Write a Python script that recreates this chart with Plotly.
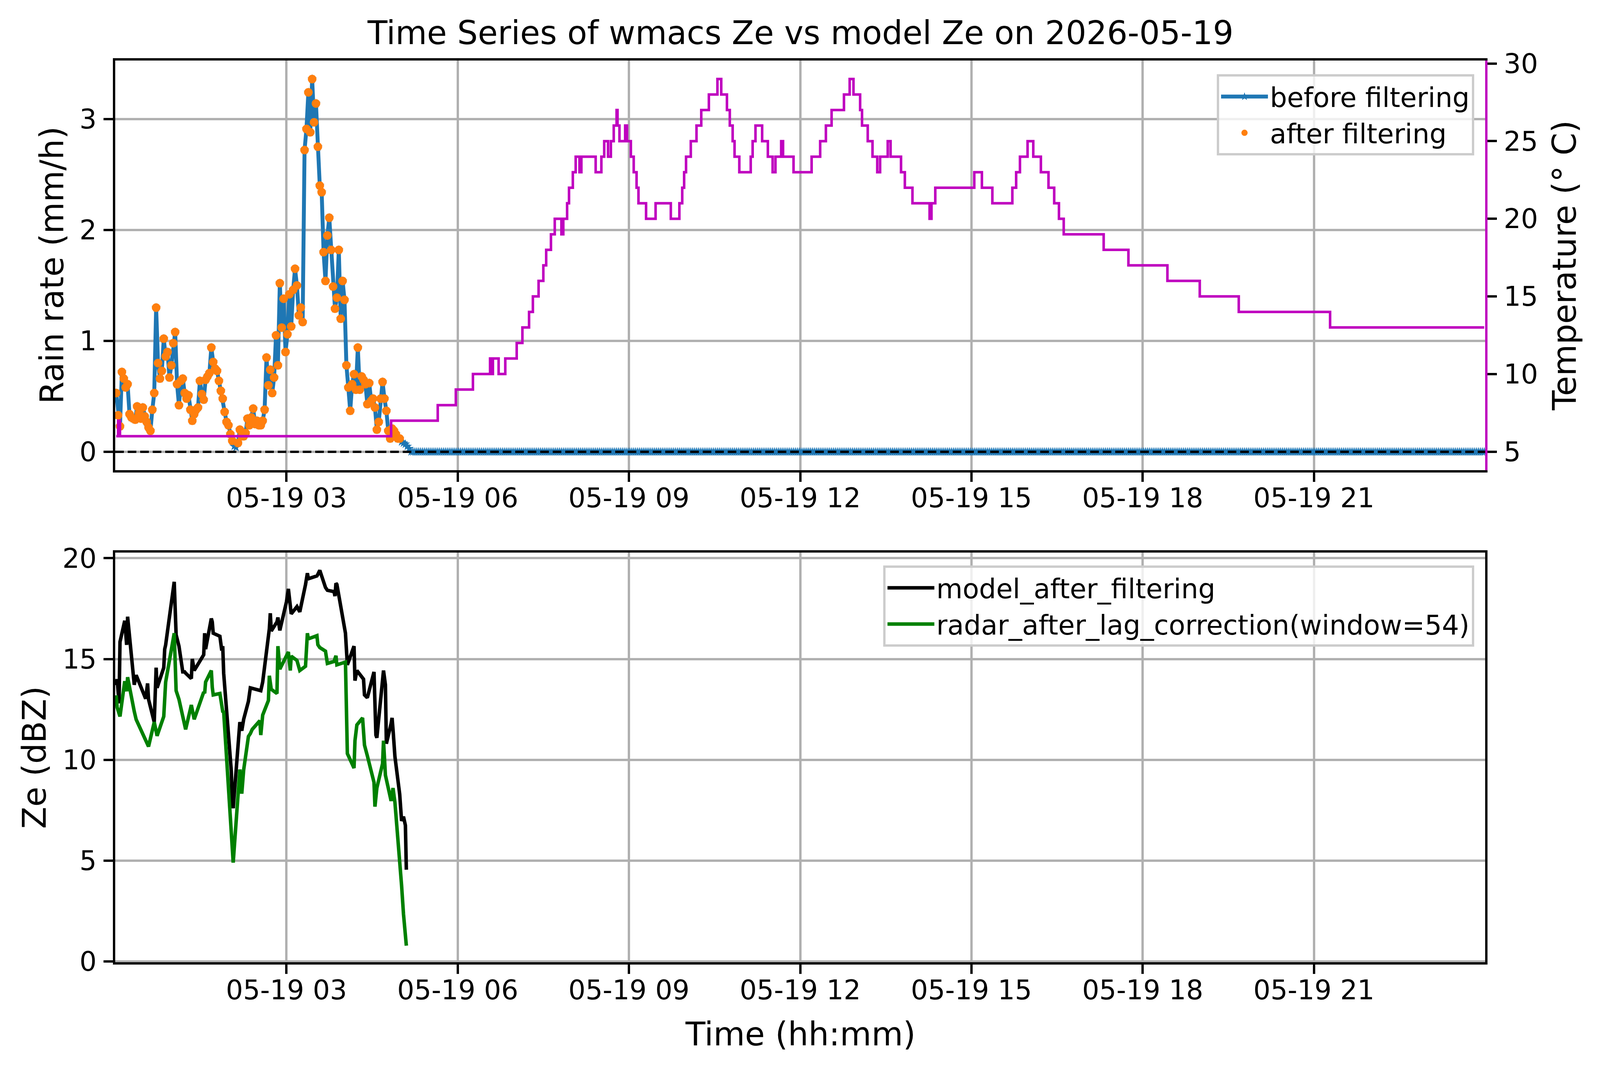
"""Rain rate / temperature and Ze time series for one day (Plotly)."""

import pandas as pd
import plotly.graph_objects as go

DAY = '2026-05-19'

# rain rate (mm/h), one reading every 2 min starting 00:01; dry after 05:11
rain_wet = [
    0.53, 0.33, 0.23, 0.72, 0.66, 0.58, 0.61, 0.34, 0.31, 0.30,
    0.29, 0.41, 0.35, 0.30, 0.40, 0.32, 0.27, 0.22, 0.19, 0.38,
    0.53, 1.30, 0.80, 0.66, 0.73, 1.02, 0.86, 0.90, 0.67, 0.78,
    0.98, 1.08, 0.61, 0.42, 0.64, 0.66, 0.53, 0.48, 0.51, 0.38,
    0.28, 0.34, 0.38, 0.40, 0.64, 0.52, 0.47, 0.65, 0.68, 0.71,
    0.94, 0.81, 0.75, 0.73, 0.64, 0.55, 0.48, 0.36, 0.27, 0.24,
    0.16, 0.10, 0.05, 0.04, 0.08, 0.20, 0.14, 0.14, 0.17, 0.30,
    0.24, 0.31, 0.39, 0.25, 0.28, 0.24, 0.24, 0.28, 0.38, 0.85,
    0.60, 0.74, 0.53, 0.67, 1.05, 0.78, 1.52, 1.12, 1.38, 0.90,
    1.06, 1.42, 1.13, 1.46, 1.65, 1.50, 1.23, 1.30, 1.17, 2.72,
    2.91, 3.24, 2.88, 3.36, 2.97, 3.14, 2.75, 2.40, 2.34, 1.80,
    1.54, 1.95, 2.11, 1.82, 1.49, 1.29, 1.39, 1.82, 1.20, 1.54,
    1.37, 0.78, 0.58, 0.37, 0.61, 0.70, 0.56, 0.94, 0.56, 0.68,
    0.65, 0.61, 0.43, 0.62, 0.46, 0.48, 0.40, 0.20, 0.27, 0.48,
    0.63, 0.48, 0.37, 0.19, 0.12, 0.21, 0.19, 0.16, 0.12, 0.12,
    0.09, 0.08, 0.07, 0.05, 0.03, 0.0,
]
rain_removed = ['02:05', '02:07']   # dropped by the filter
rain_filter_end = '04:59'           # no filtered values after this

# temperature (deg C), value from each change time onwards
temp_times = [
    '00:01', '00:03', '00:05', '04:50', '05:39', '05:58', '06:16', '06:34',
    '06:36', '06:37', '06:43', '06:50', '07:02', '07:08', '07:15', '07:19',
    '07:25', '07:30', '07:33', '07:38', '07:42', '07:49', '07:51', '07:55',
    '07:57', '08:01', '08:04', '08:08', '08:10', '08:25', '08:31', '08:34',
    '08:38', '08:41', '08:44', '08:47', '08:48', '08:50', '08:56', '08:58',
    '09:02', '09:05', '09:08', '09:10', '09:18', '09:28', '09:44', '09:53',
    '09:56', '09:58', '10:00', '10:05', '10:11', '10:16', '10:24', '10:33',
    '10:37', '10:43', '10:46', '10:49', '10:51', '10:56', '11:08', '11:10',
    '11:13', '11:20', '11:26', '11:31', '11:34', '11:40', '11:42', '11:53',
    '12:12', '12:21', '12:27', '12:33', '12:46', '12:52', '12:56', '13:03',
    '13:05', '13:11', '13:16', '13:21', '13:24', '13:32', '13:35', '13:46',
    '13:50', '13:58', '14:16', '14:18', '14:22', '15:03', '15:11', '15:22',
    '15:43', '15:47', '15:51', '15:59', '16:05', '16:13', '16:21', '16:27',
    '16:32', '16:37', '17:19', '17:45', '18:26', '19:00', '19:41', '21:17',
    '23:59',
]
temp_values = [
    6, 7, 6, 7, 8, 9, 10, 11,
    10, 11, 10, 11, 12, 13, 14, 15,
    16, 17, 18, 19, 20, 19, 20, 21,
    22, 23, 24, 23, 24, 23, 24, 25,
    24, 25, 26, 27, 26, 25, 26, 25,
    24, 23, 22, 21, 20, 21, 20, 21,
    22, 23, 24, 25, 26, 27, 28, 29,
    28, 27, 26, 25, 24, 23, 24, 25,
    26, 25, 24, 23, 24, 25, 24, 23,
    24, 25, 26, 27, 28, 29, 28, 27,
    26, 25, 24, 23, 24, 25, 24, 23,
    22, 21, 20, 21, 22, 23, 22, 21,
    22, 23, 24, 25, 24, 23, 22, 21,
    20, 19, 18, 17, 16, 15, 14, 13,
    13,
]

# Ze (dBZ) of model and lag-corrected radar
ze_times = [
    '00:01', '00:02', '00:04', '00:05', '00:10', '00:12', '00:13', '00:15',
    '00:20', '00:22', '00:32', '00:34', '00:35', '00:41', '00:43', '00:44',
    '00:51', '00:52', '00:53', '01:02', '01:04', '01:07', '01:10', '01:11',
    '01:13', '01:14', '01:20', '01:21', '01:23', '01:33', '01:34', '01:35',
    '01:41', '01:42', '01:43', '01:50', '01:52', '01:53', '01:54', '02:02',
    '02:03', '02:04', '02:11', '02:13', '02:15', '02:20', '02:22', '02:24',
    '02:32', '02:33', '02:35', '02:41', '02:42', '02:43', '02:44', '02:50',
    '02:51', '02:53', '03:00', '03:02', '03:04', '03:05', '03:11', '03:14',
    '03:20', '03:22', '03:23', '03:32', '03:33', '03:35', '03:41', '03:43',
    '03:50', '03:51', '03:52', '03:53', '04:02', '04:04', '04:11', '04:12',
    '04:14', '04:20', '04:21', '04:22', '04:25', '04:32', '04:33', '04:34',
    '04:35', '04:41', '04:42', '04:44', '04:45', '04:50', '04:51', '04:52',
    '04:54', '04:59', '05:01', '05:03', '05:05', '05:06',
]
ze_model = [
    13.7, 14.0, 12.8, 15.85, 16.9, 15.7, 17.1, 16.06,
    13.72, 14.2, 13.03, 13.79, 13.0, 11.87, 14.57, 13.57,
    14.57, 15.49, 15.7, 18.83, 16.2, 15.64, 14.4, 14.36,
    14.36, 14.3, 14.03, 15.0, 14.43, 15.21, 16.28, 15.49,
    17.01, 16.84, 16.28, 16.13, 15.42, 15.64, 14.29, 9.45,
    7.89, 7.6, 11.87, 11.44, 12.01, 12.9, 13.57, 13.55,
    13.45, 13.43, 13.86, 16.13, 16.5, 17.27, 16.39, 16.84,
    17.06, 16.42, 17.84, 18.48, 17.41, 17.24, 17.6, 17.34,
    18.69, 19.26, 18.98, 19.12, 19.2, 19.4, 18.55, 18.41,
    18.34, 18.12, 18.76, 18.7, 16.28, 14.71, 15.64, 13.93,
    14.43, 14.1, 14.0, 13.22, 13.08, 14.36, 12.5, 11.23,
    11.09, 13.8, 14.43, 13.72, 10.8, 11.8, 12.08, 11.5,
    10.16, 8.3, 6.97, 7.18, 6.75, 4.55,
]
ze_radar = [
    13.2, 12.6, 12.3, 12.15, 13.9, 13.4, 14.1, 13.57,
    12.4, 12.0, 10.95, 10.8, 10.66, 11.87, 11.3, 11.19,
    12.15, 13.0, 13.86, 16.28, 13.43, 13.0, 12.37, 12.0,
    11.6, 11.51, 12.72, 12.5, 12.01, 13.36, 13.3, 13.86,
    14.43, 13.6, 13.22, 13.29, 12.44, 12.4, 12.37, 6.5,
    5.54, 4.9, 9.52, 8.32, 9.5, 11.16, 11.3, 11.51,
    11.94, 11.23, 12.22, 12.94, 14.17, 13.57, 13.5, 13.29,
    15.64, 14.5, 15.2, 15.35, 14.43, 15.14, 14.93, 14.43,
    14.64, 16.28, 16.0, 16.16, 15.71, 15.57, 15.39, 14.78,
    14.88, 15.0, 15.16, 14.71, 14.85, 10.31, 9.59, 10.95,
    11.73, 12.08, 10.9, 10.73, 10.2, 8.88, 7.68, 8.39,
    8.6, 9.81, 10.95, 9.24, 9.0, 7.96, 8.3, 8.6,
    7.89, 5.19, 3.77, 2.35, 1.2, 0.78,
]

hour_ticks = [3, 6, 9, 12, 15, 18, 21]
rain_ticks = [0, 1, 2, 3]
temp_ticks = [5, 10, 15, 20, 25, 30]
ze_ticks = [0, 5, 10, 15, 20]

BLUE, ORANGE, MAGENTA, GREEN = '#1f77b4', '#ff7f0e', '#bf00bf', '#008000'
FONT = 'DejaVu Sans'

# page is 2740 px tall; margins/gaps in px, the width follows the window
M_L, M_R, M_T, M_B = 295, 294, 155, 276
PLOT_H = 2740 - M_T - M_B
TOP_LOW = (2464 - 1204) / PLOT_H      # bottom of the upper panel
LOW_TOP = (2464 - 1415) / PLOT_H      # top of the lower panel


def stamp(hhmm):
    return f'{DAY} {hhmm}'


rain_t = pd.date_range(stamp('00:01'), stamp('23:59'), freq='2min')
rain_before = rain_wet + [0.0] * (len(rain_t) - len(rain_wet))
rain_hhmm = rain_t.strftime('%H:%M')
rain_after = [r if (h <= rain_filter_end and h not in rain_removed) else None
              for h, r in zip(rain_hhmm, rain_before)]

fig = go.Figure()

fig.add_trace(go.Scatter(
    x=rain_t, y=rain_before, mode='lines+markers', name='before filtering',
    line=dict(color=BLUE, width=10), marker=dict(symbol='star', size=18, color=BLUE),
    xaxis='x', yaxis='y', legend='legend',
))
fig.add_trace(go.Scatter(
    x=rain_t, y=rain_after, mode='markers', name='after filtering',
    marker=dict(size=22, color=ORANGE), xaxis='x', yaxis='y', legend='legend',
))
fig.add_trace(go.Scatter(
    x=[stamp(t) for t in temp_times], y=temp_values, mode='lines',
    line=dict(color=MAGENTA, width=6.5, shape='hv'), showlegend=False,
    xaxis='x', yaxis='y2',
))
fig.add_trace(go.Scatter(
    x=[stamp(t) for t in ze_times], y=ze_model, mode='lines',
    name='model_after_filtering', line=dict(color='black', width=9),
    xaxis='x2', yaxis='y3', legend='legend2',
))
fig.add_trace(go.Scatter(
    x=[stamp(t) for t in ze_times], y=ze_radar, mode='lines',
    name='radar_after_lag_correction(window=54)', line=dict(color=GREEN, width=9),
    xaxis='x2', yaxis='y3', legend='legend2',
))

axis_style = dict(
    showline=True, linecolor='black', linewidth=5.5, mirror=True,
    ticks='outside', ticklen=24, tickwidth=5.5, tickcolor='black',
    tickfont=dict(family=FONT, size=69, color='black'),
    showgrid=True, gridcolor='#b0b0b0', gridwidth=5.5,
    zeroline=False, automargin=False,
)
x_range = [stamp('00:00'), pd.Timestamp(DAY) + pd.Timedelta(days=1)]
x_ticks = [stamp(f'{h:02d}:00') for h in hour_ticks]
x_text = [f'{DAY[5:]} {h:02d}' for h in hour_ticks]

legend_style = dict(
    xanchor='right', yanchor='top', x=0.992, bgcolor='rgba(255,255,255,0.8)',
    bordercolor='#cccccc', borderwidth=6, itemwidth=120,
    font=dict(family=FONT, size=69, color='black'),
)

fig.update_layout(
    autosize=True, margin=dict(l=M_L, r=M_R, t=M_T, b=M_B, pad=0),
    paper_bgcolor='white', plot_bgcolor='white',
    font=dict(family=FONT, color='black'),
    xaxis=dict(axis_style, domain=[0, 1], anchor='y', type='date', range=x_range,
               tickvals=x_ticks, ticktext=x_text, ticklabelstandoff=-18),
    yaxis=dict(axis_style, domain=[TOP_LOW, 1], anchor='x',
               range=[-0.165, 3.527], tickvals=rain_ticks, ticklabelstandoff=4),
    yaxis2=dict(axis_style, overlaying='y', anchor='x', side='right', mirror=False,
                linecolor=MAGENTA, showgrid=False, range=[3.81, 30.19],
                tickvals=temp_ticks, ticklabelstandoff=4),
    xaxis2=dict(axis_style, domain=[0, 1], anchor='y3', type='date', range=x_range,
                tickvals=x_ticks, ticktext=x_text, ticklabelstandoff=-18),
    yaxis3=dict(axis_style, domain=[0, LOW_TOP], anchor='x2',
                range=[-0.04, 20.28], tickvals=ze_ticks, ticklabelstandoff=4),
    legend=dict(legend_style, y=1 - 35 / PLOT_H),
    legend2=dict(legend_style, y=1 - (1448 - M_T) / PLOT_H),
    shapes=[dict(type='line', xref='x domain', yref='y', x0=0, x1=1, y0=0, y1=0,
                 line=dict(color='black', width=6, dash='22px,10px'), layer='above')],
    showlegend=True,
)

label_font = dict(family=FONT, size=83, color='black')
annotations = [
    dict(text='Time Series of wmacs Ze vs model Ze on 2026-05-19',
         xref='paper', x=0.5, yref='y domain', y=1, yshift=M_T - 84),
    dict(text='Rain rate (mm/h)', xref='paper', x=0, xshift=133 - M_L,
         yref='y domain', y=0.5, textangle=-90),
    dict(text='Temperature (° C)', xref='paper', x=1, xshift=203,
         yref='y domain', y=0.5, textangle=-90),
    dict(text='Ze (dBZ)', xref='paper', x=0, xshift=88 - M_L,
         yref='y3 domain', y=0.5, textangle=-90),
    dict(text='Time (hh:mm)', xref='paper', x=0.5,
         yref='y3 domain', y=0, yshift=-(2648 - 2464)),
]
for a in annotations:
    fig.add_annotation(showarrow=False, xanchor='center', yanchor='middle',
                       font=label_font, **a)

fig.write_html(
    'out.html', config={'displayModeBar': False},
    default_width='100vw', default_height='100vh',
    post_script="document.body.style.margin='0';"
                "document.body.style.overflow='hidden';",
)
